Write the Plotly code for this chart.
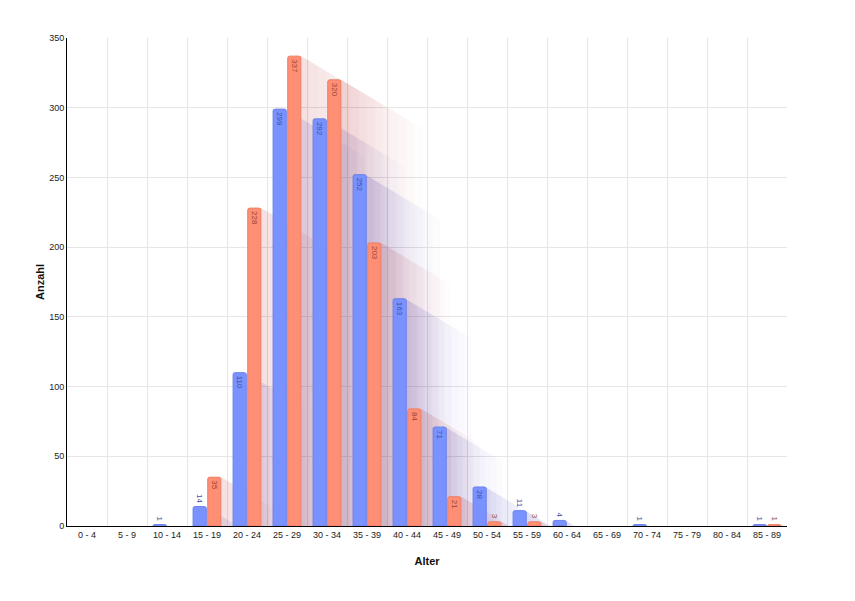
import plotly.graph_objects as go

categories = ["0 - 4", "5 - 9", "10 - 14", "15 - 19", "20 - 24", "25 - 29", "30 - 34",
              "35 - 39", "40 - 44", "45 - 49", "50 - 54", "55 - 59", "60 - 64", "65 - 69",
              "70 - 74", "75 - 79", "80 - 84", "85 - 89"]
series_a = [0, 0, 1, 14, 110, 299, 292, 252, 163, 71, 28, 11, 4, 0, 1, 0, 0, 1]
series_b = [0, 0, 0, 35, 228, 337, 320, 203, 84, 21, 3, 3, 0, 0, 0, 0, 0, 1]
y_ticks = [0, 50, 100, 150, 200, 250, 300, 350]

BLUE = "rgb(122,146,255)"
ORANGE = "rgb(255,143,116)"
FONT = "Liberation Sans, Arial, sans-serif"

x = list(range(len(categories)))

fig = go.Figure()
for vals, color, line_c, txt_c, name in [
    (series_a, BLUE, "rgb(108,130,235)", "rgb(60,80,165)", "A"),
    (series_b, ORANGE, "rgb(238,126,100)", "rgb(150,70,50)", "B"),
]:
    fig.add_trace(go.Bar(
        x=x, y=[v if v else None for v in vals], name=name,
        marker=dict(color=color, line=dict(color=line_c, width=1), cornerradius=2),
        text=[str(v) if v else "" for v in vals],
        textposition=["inside" if v >= 20 else "outside" for v in vals],
        textangle=90, insidetextanchor="end",
        textfont=dict(size=8, color=txt_c, family=FONT),
        constraintext="none", cliponaxis=False,
    ))

# decorative diagonal shadows (derived from data, through axis coordinates)
px_per_cat = 40.0
px_per_unit = 488.0 / 350.0
shapes = []
n_layers = 10
for vals, off, rgb in [(series_a, -0.2, "80,85,160"), (series_b, 0.2, "160,95,80")]:
    for i, v in enumerate(vals):
        if not v:
            continue
        x0 = i + off - 0.16
        x1 = i + off + 0.16
        h_px = v * px_per_unit
        L = 50 + 0.07 * h_px
        for k in range(1, n_layers + 1):
            lx = L * k / n_layers
            dx = lx / px_per_cat
            dy = 0.6 * lx / px_per_unit
            path = (f"M {x0},{v} L {x1},{v} L {x1+dx},{v-dy} L {x1+dx},{-dy} "
                    f"L {x0+dx},{-dy} L {x0},0 Z")
            shapes.append(dict(type="path", path=path, xref="x", yref="y",
                               fillcolor=f"rgba({rgb},0.016)", line=dict(width=0),
                               layer="between"))

fig.update_layout(
    width=847, height=593,
    margin=dict(l=59, r=68, t=30, b=75),
    paper_bgcolor="white", plot_bgcolor="white",
    barmode="group", bargap=0.27, bargroupgap=0.1,
    showlegend=False,
    font=dict(family=FONT, size=9, color="#222"),
    shapes=shapes,
    xaxis=dict(
        range=[-0.5, len(categories) - 0.5], automargin=False,
        tickmode="array", tickvals=x, ticktext=categories,
        showgrid=False, showline=True, linecolor="black", linewidth=1,
        ticks="", zeroline=False,
        tickfont=dict(size=9, color="#222"),
        title=dict(text="<b>Alter</b>", font=dict(size=11, color="#111"), standoff=18),
        minor=dict(tick0=0.5, dtick=1, showgrid=True, gridcolor="#e6e6e6", gridwidth=1),
    ),
    yaxis=dict(
        range=[0, 350], tickmode="array", tickvals=y_ticks, automargin=False,
        showgrid=True, gridcolor="#e6e6e6", gridwidth=1,
        showline=True, linecolor="black", linewidth=1, zeroline=False,
        ticks="", tickfont=dict(size=9, color="#222"),
        title=dict(text="<b>Anzahl</b>", font=dict(size=11, color="#111"), standoff=2),
    ),
)

fig.write_html("out.html")
